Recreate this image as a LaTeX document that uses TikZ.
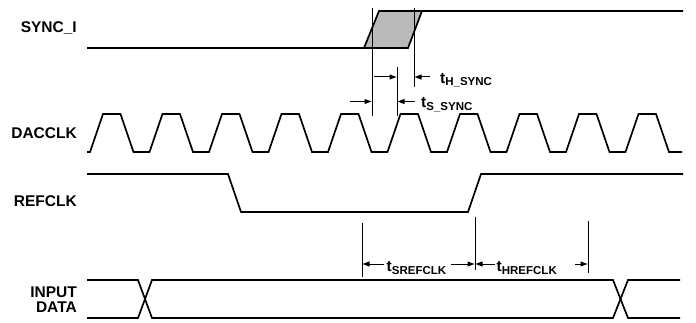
\documentclass[tikz,border=0pt]{standalone}
\usepackage{fontspec}
\setmainfont{Liberation Sans}
\newcommand{\tlab}[1]{{\fontsize{15.5}{16}\selectfont t}{\fontsize{11.5}{12}\selectfont\raisebox{-2.5pt}{#1}}}
\newcommand{\dimarr}[3]{%
  \pgfmathsetmacro{\arrdir}{(#2>#1)?1:-1}%
  \draw[dimline] (#1,#3) -- ({#2-\arrdir*4},#3);%
  \fill ({#2-\arrdir*0.5},#3) -- ({#2-\arrdir*7.5},{#3-2.6}) -- ({#2-\arrdir*7.5},{#3+2.6}) -- cycle;}
\begin{document}
\begin{tikzpicture}[x=1pt,y=-1pt,
  sig/.style={line width=1.7pt},
  dimline/.style={line width=1pt},
  lbl/.style={font=\fontsize{15.5}{15}\selectfont\bfseries,anchor=east,inner sep=0pt,align=right},
  tl/.style={font=\bfseries,anchor=base west,inner sep=0pt}]
\useasboundingbox (0,0) rectangle (696,323);
\node[lbl] (sync) at (77,28.5) {SYNC\_I};
\node[lbl] (dac) at (77,133) {DACCLK};
\node[lbl] (ref) at (77,201) {REFCLK};
\node[lbl] (din) at (77,299.5) {INPUT\\DATA};
% SYNC_I
\fill[black!27] (364,48) -- (379,11) -- (422,11) -- (408,48) -- cycle;
\draw[sig] (87,48) -- (408,48) -- (422,11) -- (683,11);
\draw[sig] (364,48) -- (379,11) -- (422,11);
% DACCLK
\draw[sig] (87,152) foreach \k in {0,...,9} {-- ({90+59.5*\k},152) -- ({103+59.5*\k},114) -- ({120.5+59.5*\k},114) -- ({133.5+59.5*\k},152)} -- (682,152);
% REFCLK
\draw[sig] (87,174) -- (228,174) -- (241,212) -- (468,212) -- (481,174) -- (683,174);
% INPUT DATA
\draw[sig] (87,280) -- (138,280) -- (152,318) -- (613,318) -- (628,280) -- (680,280);
\draw[sig] (87,318) -- (138,318) -- (152,280) -- (613,280) -- (628,318) -- (680,318);
% sync timing
\draw[dimline] (372,8) -- (372,116);
\draw[dimline] (397,67) -- (397,116);
\draw[dimline] (414,8) -- (414,87);
\dimarr{374}{397}{77}
\dimarr{430}{414}{77}
\dimarr{350}{372}{101.5}
\dimarr{415}{397}{101.5}
\node[tl] (th) at (440,83.3) {\tlab{H\_SYNC}};
\node[tl] (ts) at (421,108) {\tlab{S\_SYNC}};
% refclk timing
\draw[dimline] (362,223) -- (362,277);
\draw[dimline] (475,217) -- (475,270);
\draw[dimline] (588,221) -- (588,273);
\dimarr{384}{362}{264}
\dimarr{451}{475}{264}
\dimarr{495}{475}{264}
\dimarr{575}{588}{264}
\node[tl] (tsr) at (386.5,271.5) {\tlab{SREFCLK}};
\node[tl] (thr) at (496.5,271.5) {\tlab{HREFCLK}};
\end{tikzpicture}
\end{document}
